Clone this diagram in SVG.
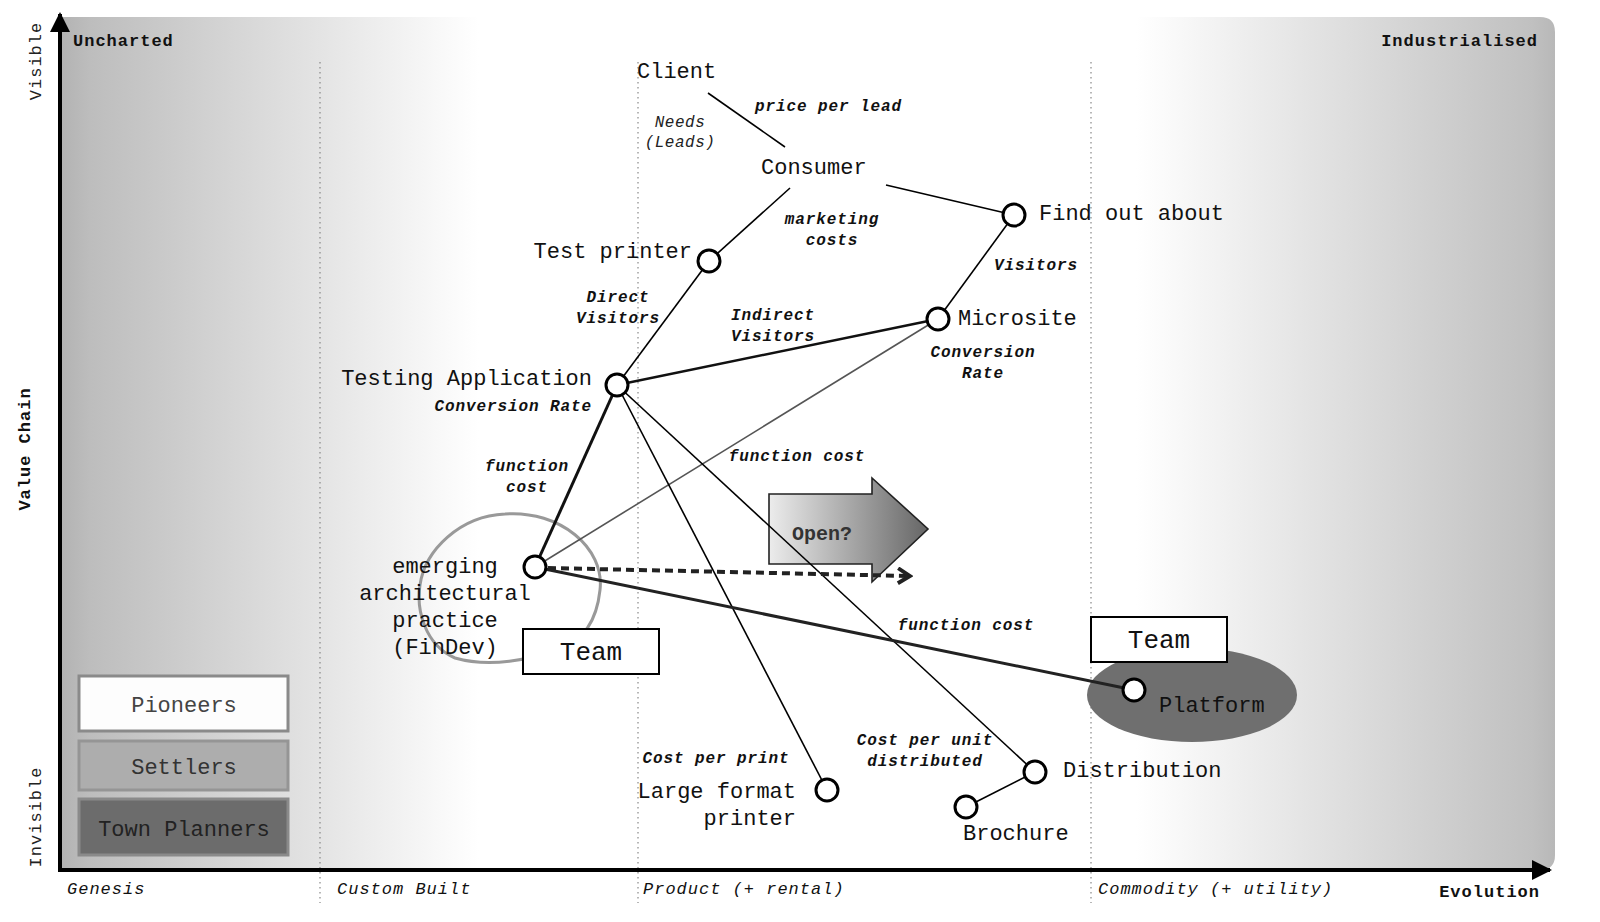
<svg xmlns="http://www.w3.org/2000/svg" width="1600" height="922" viewBox="0 0 1600 922">
<defs>
<linearGradient id="panelGrad" gradientUnits="userSpaceOnUse" x1="60" y1="0" x2="1555" y2="0">
<stop offset="0" stop-color="#b2b2b2"/>
<stop offset="0.02" stop-color="#bdbdbd"/>
<stop offset="0.28" stop-color="#ffffff"/>
<stop offset="0.72" stop-color="#ffffff"/>
<stop offset="0.985" stop-color="#c0c0c0"/>
<stop offset="1" stop-color="#b8b8b8"/>
</linearGradient>
<linearGradient id="openGrad" gradientUnits="userSpaceOnUse" x1="769" y1="0" x2="928" y2="0">
<stop offset="0" stop-color="#ececec"/>
<stop offset="1" stop-color="#666666"/>
</linearGradient>
<marker id="axArrow" viewBox="0 0 10 10" refX="9" refY="5" markerWidth="5" markerHeight="5" orient="auto" markerUnits="strokeWidth">
<path d="M0,0 L10,5 L0,10 Z" fill="#000"/>
</marker>
<marker id="chev" viewBox="0 0 12 12" refX="10" refY="6" markerWidth="4.5" markerHeight="4.5" orient="auto" markerUnits="strokeWidth">
<path d="M2,1 L10,6 L2,11" fill="none" stroke="#222" stroke-width="2.6"/>
</marker>
<style>
.node{font-family:"Liberation Mono",monospace;font-size:22px;fill:#111}
.lbl{font-family:"Liberation Mono",monospace;font-size:16px;font-weight:bold;font-style:italic;letter-spacing:0.9px;fill:#111}
.it{font-family:"Liberation Mono",monospace;font-size:16px;font-style:italic;letter-spacing:0.5px;fill:#222}
.ax{font-family:"Liberation Mono",monospace;font-size:17px;font-style:italic;letter-spacing:1px;fill:#111}
.axb{font-family:"Liberation Mono",monospace;font-size:17px;font-weight:bold;letter-spacing:1px;fill:#111}
.axv{font-family:"Liberation Mono",monospace;font-size:17px;letter-spacing:1px;fill:#222}
.team{font-family:"Liberation Mono",monospace;font-size:26px;fill:#111}
.leg{font-family:"Liberation Mono",monospace;font-size:22px}
.circ{fill:#fff;stroke:#000;stroke-width:3}
.thin{stroke:#000;stroke-width:1.6;fill:none}
.mid{stroke:#111;stroke-width:2.4;fill:none}
.grid{stroke:#888;stroke-width:1.2;stroke-dasharray:1.5 3.5}
.box{fill:#fff;stroke:#000;stroke-width:2}
</style>
</defs>
<rect width="1600" height="922" fill="#fff"/>
<g id="background">
<path d="M60,17 H1540 Q1555,17 1555,32 V855 Q1555,870 1540,870 H60 Z" fill="url(#panelGrad)"/>
<line class="grid" x1="320" y1="62" x2="320" y2="903"/>
<line class="grid" x1="638" y1="62" x2="638" y2="903"/>
<line class="grid" x1="1091" y1="62" x2="1091" y2="903"/>
</g>
<g id="axes">
<line x1="60" y1="870" x2="60" y2="14" stroke="#000" stroke-width="4" marker-end="url(#axArrow)"/>
<line x1="58" y1="870" x2="1550" y2="870" stroke="#000" stroke-width="4" marker-end="url(#axArrow)"/>
<text class="axb" x="73" y="46">Uncharted</text>
<text class="axb" x="1538" y="46" text-anchor="end">Industrialised</text>
<text class="ax" x="67" y="894">Genesis</text>
<text class="ax" x="337" y="894">Custom Built</text>
<text class="ax" x="643" y="894">Product (+ rental)</text>
<text class="ax" x="1098" y="894">Commodity (+ utility)</text>
<text class="axb" x="1540" y="897" text-anchor="end">Evolution</text>
<text class="axv" transform="translate(41,61) rotate(-90)" text-anchor="middle">Visible</text>
<text class="axb" transform="translate(30,449) rotate(-90)" text-anchor="middle">Value Chain</text>
<text class="axv" transform="translate(41,817) rotate(-90)" text-anchor="middle">Invisible</text>
</g>
<g id="legend">
<rect x="79" y="676" width="209" height="55" fill="#fdfdfd" stroke="#8a8a8a" stroke-width="3"/>
<text class="leg" x="184" y="712" text-anchor="middle" fill="#444">Pioneers</text>
<rect x="79" y="741" width="209" height="49" fill="#adadad" stroke="#959595" stroke-width="3"/>
<text class="leg" x="184" y="774" text-anchor="middle" fill="#333">Settlers</text>
<rect x="79" y="799" width="209" height="56" fill="#6c6c6c" stroke="#8a8a8a" stroke-width="3"/>
<text class="leg" x="184" y="836" text-anchor="middle" fill="#222">Town Planners</text>
</g>
<g id="team-areas">
<path d="M505,514 C560,510 605,548 600,590 C597,618 585,640 560,648 C530,660 490,668 455,658 C425,645 416,610 420,585 C425,550 460,516 505,514 Z" fill="none" stroke="#999" stroke-width="3"/>
<ellipse cx="1192" cy="695" rx="105" ry="47" fill="#6f6f6f"/>
</g>
<g id="open-arrow">
<polygon points="769,494 872,494 872,478 928,529 872,582 872,564 769,564" fill="url(#openGrad)" stroke="#222" stroke-width="1.6"/>
<text x="822" y="540" text-anchor="middle" font-family="Liberation Mono, monospace" font-size="20" font-weight="bold" fill="#333">Open?</text>
</g>
<g id="connectors">
<line class="thin" x1="708" y1="93" x2="785" y2="147"/>
<line class="thin" x1="790" y1="188" x2="709" y2="261"/>
<line class="thin" x1="886" y1="185" x2="1014" y2="215"/>
<line class="thin" x1="1014" y1="215" x2="938" y2="319"/>
<line class="thin" x1="709" y1="261" x2="617" y2="385"/>
<line class="mid" x1="617" y1="385" x2="938" y2="319"/>
<line x1="535" y1="567" x2="938" y2="319" stroke="#555" stroke-width="1.6"/>
<line x1="617" y1="385" x2="535" y2="567" stroke="#111" stroke-width="3"/>
<line class="thin" x1="617" y1="385" x2="827" y2="790"/>
<line class="thin" x1="617" y1="385" x2="1035" y2="772"/>
<line x1="535" y1="567" x2="1134" y2="690" stroke="#222" stroke-width="3"/>
<line class="thin" x1="1035" y1="772" x2="966" y2="807"/>
<line x1="548" y1="568" x2="910" y2="576" stroke="#222" stroke-width="4" stroke-dasharray="8 5" marker-end="url(#chev)"/>
</g>
<g id="connector-labels">
<text class="lbl" x="755" y="111">price per lead</text>
<text class="it" x="680" y="127" text-anchor="middle">Needs</text>
<text class="it" x="680" y="147" text-anchor="middle">(Leads)</text>
<text class="lbl" x="832" y="224" text-anchor="middle">marketing</text>
<text class="lbl" x="832" y="245" text-anchor="middle">costs</text>
<text class="lbl" x="1036" y="270" text-anchor="middle">Visitors</text>
<text class="lbl" x="618" y="302" text-anchor="middle">Direct</text>
<text class="lbl" x="618" y="323" text-anchor="middle">Visitors</text>
<text class="lbl" x="773" y="320" text-anchor="middle">Indirect</text>
<text class="lbl" x="773" y="341" text-anchor="middle">Visitors</text>
<text class="lbl" x="983" y="357" text-anchor="middle">Conversion</text>
<text class="lbl" x="983" y="378" text-anchor="middle">Rate</text>
<text class="lbl" x="592" y="411" text-anchor="end">Conversion Rate</text>
<text class="lbl" x="797" y="461" text-anchor="middle">function cost</text>
<text class="lbl" x="527" y="471" text-anchor="middle">function</text>
<text class="lbl" x="527" y="492" text-anchor="middle">cost</text>
<text class="lbl" x="966" y="630" text-anchor="middle">function cost</text>
<text class="lbl" x="716" y="763" text-anchor="middle">Cost per print</text>
<text class="lbl" x="925" y="745" text-anchor="middle">Cost per unit</text>
<text class="lbl" x="925" y="766" text-anchor="middle">distributed</text>
</g>
<g id="node-client"><text class="node" x="637" y="78">Client</text></g>
<g id="node-consumer"><text class="node" x="761" y="174">Consumer</text></g>
<g id="node-find-out-about"><circle class="circ" cx="1014" cy="215" r="11"/><text class="node" x="1039" y="220">Find out about</text></g>
<g id="node-test-printer"><circle class="circ" cx="709" cy="261" r="11"/><text class="node" x="692" y="258" text-anchor="end">Test printer</text></g>
<g id="node-microsite"><circle class="circ" cx="938" cy="319" r="11"/><text class="node" x="958" y="325">Microsite</text></g>
<g id="node-testing-application"><circle class="circ" cx="617" cy="385" r="11"/><text class="node" x="592" y="385" text-anchor="end">Testing Application</text></g>
<g id="node-emerging">
<circle class="circ" cx="535" cy="567" r="11" stroke-width="2.4"/>
<text class="node" text-anchor="middle"><tspan x="445" y="573">emerging</tspan><tspan x="445" y="600">architectural</tspan><tspan x="445" y="627">practice</tspan><tspan x="445" y="654">(FinDev)</tspan></text>
</g>
<g id="node-team-1"><rect class="box" x="523" y="629" width="136" height="45"/><text class="team" x="591" y="660" text-anchor="middle">Team</text></g>
<g id="node-team-2"><rect class="box" x="1091" y="617" width="136" height="45"/><text class="team" x="1159" y="648" text-anchor="middle">Team</text></g>
<g id="node-platform"><circle class="circ" cx="1134" cy="690" r="11" stroke-width="2.4"/><text class="node" x="1159" y="712" fill="#222">Platform</text></g>
<g id="node-large-format-printer"><circle class="circ" cx="827" cy="790" r="11"/><text class="node" text-anchor="end"><tspan x="796" y="798">Large format</tspan><tspan x="796" y="825">printer</tspan></text></g>
<g id="node-distribution"><circle class="circ" cx="1035" cy="772" r="11"/><text class="node" x="1063" y="777">Distribution</text></g>
<g id="node-brochure"><circle class="circ" cx="966" cy="807" r="11"/><text class="node" x="963" y="840">Brochure</text></g>
</svg>
